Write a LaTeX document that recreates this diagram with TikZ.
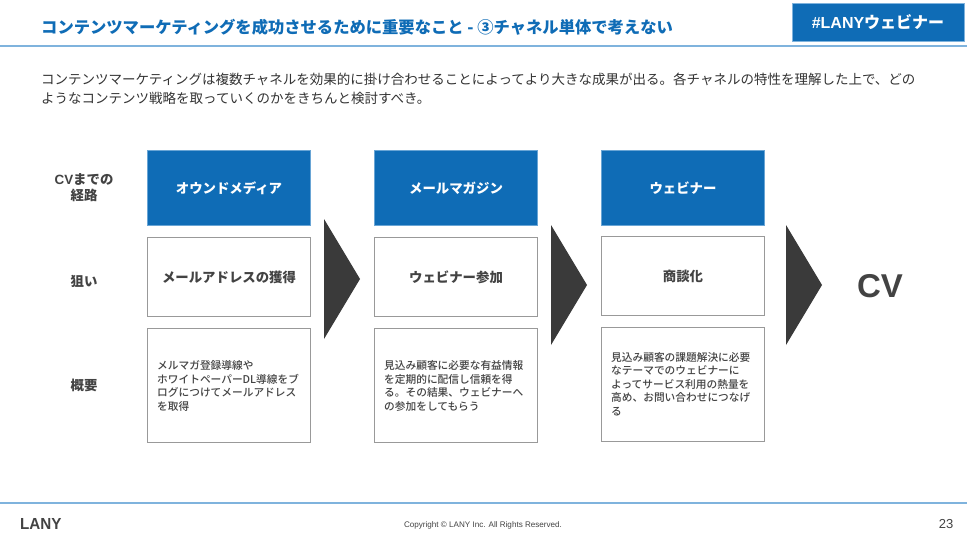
\documentclass[tikz,border=0pt]{standalone}
\usepackage{fontspec}
\setmainfont{Noto Sans CJK JP}
\newfontfamily\latinfont{Liberation Sans}
\newfontfamily\midfont{Noto Sans CJK JP Medium}
\usetikzlibrary{calc}
\definecolor{lanyblue}{HTML}{0F6CB6}
\definecolor{lanyline}{HTML}{7FB3DD}
\definecolor{lanytext}{HTML}{333333}
\definecolor{lanygray}{HTML}{434343}
\definecolor{lanydark}{HTML}{3A3A3A}
\tikzset{
	headbox/.style={fill=lanyblue, draw=lanyline!80!lanyblue, line width=0.6pt, text=white, font=\fontsize{13.4}{15}\selectfont\bfseries, minimum width=163pt, minimum height=74.5pt, inner sep=0pt},
	aimbox/.style={fill=white, draw=black!40, line width=0.8pt, text=lanygray, font=\fontsize{13.4}{15}\selectfont\bfseries, minimum width=163pt, minimum height=79.5pt, inner sep=0pt},
	notebox/.style={fill=white, draw=black!40, line width=0.8pt, minimum width=163pt, minimum height=114.5pt, inner sep=0pt},
	notetext/.style={text=lanygray, font=\midfont\fontsize{10.7}{13.4}\selectfont, align=left, anchor=west, inner sep=0pt},
	rowlabel/.style={text=lanygray, font=\fontsize{13.4}{16}\selectfont\bfseries, align=center, inner sep=0pt},
	bodytext/.style={text=lanytext, font=\fontsize{13.5}{19}\selectfont, align=left, anchor=north west, inner sep=0pt},
	nextarrow/.style={fill=lanydark, draw=none},
	rule/.style={draw=lanyline, line width=1.6pt}
}
\begin{document}
\begin{tikzpicture}[x=1pt,y=-1pt]
	\useasboundingbox[fill=white] (0,0) rectangle (967,543);

	% header
	\coordinate (topl) at (0,46);
	\coordinate (topr) at (967,46);
	\draw[rule] (topl) -- (topr);
	\node[anchor=west, inner sep=0pt, text=lanyblue, font=\fontsize{16.3}{18}\selectfont\bfseries] (title) at (41,27) {コンテンツマーケティングを成功させるために重要なこと - ③チャネル単体で考えない};
	\node[fill=lanyblue, draw=lanyline, line width=0.6pt, text=white, minimum width=172pt, minimum height=38.5pt, inner sep=0pt, font=\fontsize{16}{17}\selectfont\bfseries] (tag) at (878,22.3) {{\latinfont\#LANY}ウェビナー};
	\node[bodytext] (lead) at (41,73) {コンテンツマーケティングは複数チャネルを効果的に掛け合わせることによってより大きな成果が出る。各チャネルの特性を理解した上で、どの\\ようなコンテンツ戦略を取っていくのかをきちんと検討すべき。};

	% row labels
	\node[rowlabel] (lbroute) at (84,188) {{\latinfont CV}までの\\経路};
	\node[rowlabel] (lbaim) at (84,281) {狙い};
	\node[rowlabel] (lbnote) at (84,385) {概要};

	% first column
	\node[headbox] (media) at (229,188) {オウンドメディア};
	\node[aimbox] (mediaaim) at (229,277) {メールアドレスの獲得};
	\node[notebox] (medianote) at (229,385.5) {};
	\node[notetext] (mediatext) at (157,386) {メルマガ登録導線や\\ホワイトペーパーDL導線をブ\\ログにつけてメールアドレス\\を取得};

	% second column
	\node[headbox] (mail) at (456,188) {メールマガジン};
	\node[aimbox] (mailaim) at (456,277) {ウェビナー参加};
	\node[notebox] (mailnote) at (456,385.5) {};
	\node[notetext] (mailtext) at (384,386) {見込み顧客に必要な有益情報\\を定期的に配信し信頼を得\\る。その結果、ウェビナーへ\\の参加をしてもらう};

	% third column
	\node[headbox] (webinar) at (683,188) {ウェビナー};
	\node[aimbox] (webinaraim) at (683,276) {商談化};
	\node[notebox, minimum height=114pt] (webinarnote) at (683,384) {};
	\node[notetext] (webinartext) at (611,384) {見込み顧客の課題解決に必要\\なテーマでのウェビナーに\\よってサービス利用の熱量を\\高め、お問い合わせにつなげ\\る};

	% arrows
	\fill[nextarrow] (324,219) -- (360,279) -- (324,339) -- cycle;
	\fill[nextarrow] (551,225) -- (587,285) -- (551,345) -- cycle;
	\fill[nextarrow] (786,225) -- (822,285) -- (786,345) -- cycle;
	\node[text=lanygray, font=\latinfont\fontsize{33}{36}\selectfont\bfseries, inner sep=0pt] (cv) at (880,286) {CV};

	% footer
	\coordinate (botl) at (0,503);
	\coordinate (botr) at (967,503);
	\draw[rule] (botl) -- (botr);
	\node[anchor=west, inner sep=0pt, text=lanygray, xscale=0.95, font=\latinfont\fontsize{16}{18}\selectfont\bfseries] (logo) at (20,524) {LANY};
	\node[text=lanygray, inner sep=0pt, font=\latinfont\fontsize{8.1}{10}\selectfont] (copy) at (483,525) {Copyright © LANY Inc. All Rights Reserved.};
	\node[text=lanygray, inner sep=0pt, font=\latinfont\fontsize{13}{15}\selectfont] (page) at (946,524) {23};
\end{tikzpicture}
\end{document}
